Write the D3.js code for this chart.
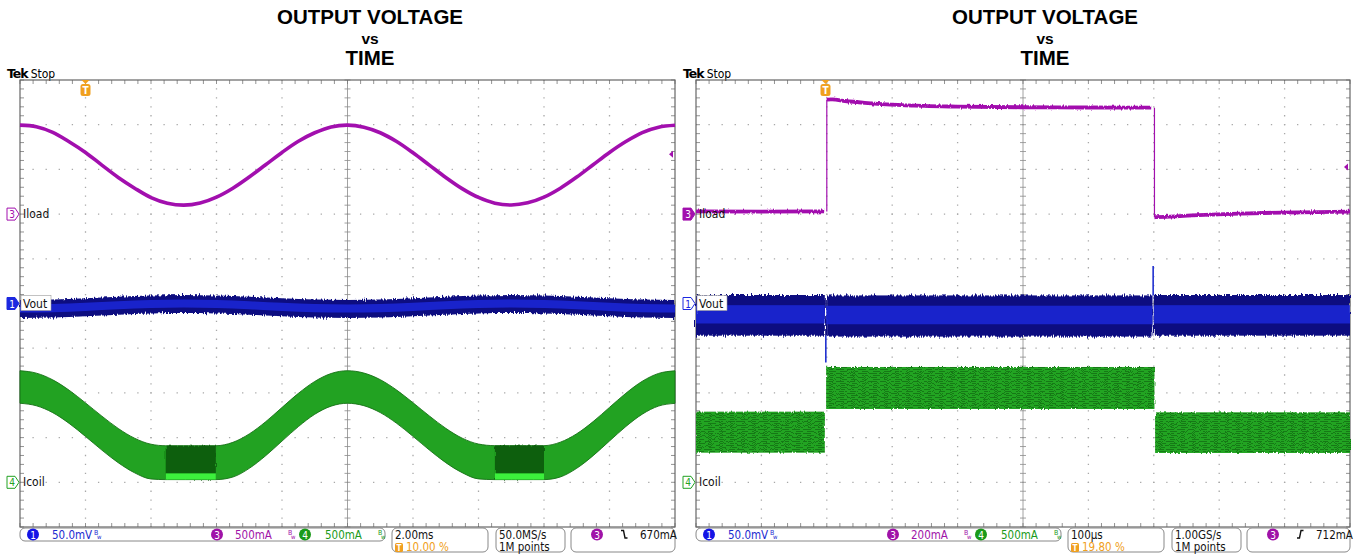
<!DOCTYPE html>
<html><head><meta charset="utf-8">
<script src="https://cdn.jsdelivr.net/npm/d3@7/dist/d3.min.js"></script>
<style>body{margin:0;background:#fff}svg{display:block}</style>
</head><body>
<svg id="c" width="1354" height="555"></svg>
<script>
// ================= DATA =================
const titleLines = ["OUTPUT VOLTAGE", "vs", "TIME"];
const channelNames = ["Vout", "Iload", "Icoil"];

// ---- Left capture: 2.00 ms/div, trigger at 10 %
const L_time = [-2,-1.5,-1,-0.5,0,0.5,1,1.5,2,2.5,3,3.5,4,4.5,5,5.5,6,6.5,7,7.5,8,8.5,9,9.5,10,10.5,11,11.5,12,12.5,13,13.5,14,14.5,15,15.5,16,16.5,17,17.5,18]; // ms
const L_iload = [995,978,915,810,690,548,410,290,185,122,100,124,190,290,415,552,690,815,910,975,995,972,910,812,686,548,410,285,186,122,102,126,190,290,414,552,690,812,912,972,993]; // mA
const L_voutTime = [-2,-1,0,1,2,3,4,5,6,7,8,9,10,11,12,13,14,15,16,17,18]; // ms
const L_voutHigh = [3.9,4.4,5.8,7.6,9.0,9.6,9.0,7.6,5.8,4.4,3.9,4.4,5.8,7.6,9.0,9.6,9.0,7.6,5.8,4.4,3.9]; // mV
const L_voutLow = [-16.2,-15.7,-14.3,-12.5,-11.1,-10.6,-11.1,-12.5,-14.3,-15.7,-16.2,-15.7,-14.3,-12.5,-11.1,-10.6,-11.1,-12.5,-14.3,-15.7,-16.2]; // mV
const L_icoilTime = [-2,-1.5,-1,-0.5,0,0.5,1,1.5,2,2.45,3.98,4.5,5,5.5,6,6.5,7,7.5,8,8.5,9,9.5,10,10.5,11,11.5,12,12.5,14.0,14.5,15,15.5,16,16.5,17,17.5,18]; // ms
const L_icoilHigh = [1248,1221,1146,1030,888,740,602,493,426,409,409,447,541,677,837,995,1128,1217,1248,1222,1148,1032,890,742,604,494,428,410,410,449,543,679,838,996,1130,1218,1247]; // mA
const L_icoilLow = [884,856,779,659,513,360,219,106,37,30,30,59,156,297,461,623,761,852,884,857,780,660,514,361,220,108,38,30,30,60,157,298,462,624,762,853,883]; // mA
const L_burstStart = [2.45, 12.5]; // ms
const L_burstEnd = [3.98, 14.0];
const L_burstHigh = [409, 410]; // mA
const L_burstLow = [30, 30];
const L_burstFloor = [100, 100];
const L_trigLevel = 670; // mA
const L_status = {ch1:"50.0mV", ch3:"500mA", ch4:"500mA", tdiv:"2.00ms", tpos:"10.00 %", rate:"50.0MS/s", pts:"1M points", trig:"670mA", slope:"fall"};

// ---- Right capture: 100 us/div, trigger at 19.80 %
const R_iloadSegTime = [[-198,-100,-2],[2,10,30,60,100,150,200,300,400,498],[503,520,560,620,700,802]]; // us
const R_iloadSegVal = [[12,11,12],[512,513,506,498,490,484,481,478,477,476],[-14,-12,-6,1,7,11]]; // mA
const R_voutSegStart = [-198, 1, 502]; // us
const R_voutSegEnd = [-1, 500, 802];
const R_voutHigh = [9.5, 9.0, 9.5]; // mV
const R_voutLow = [-36, -37, -36];
const R_spikeTime = [0.5, 501];
const R_spikeBase = [-36, 9];
const R_spikeTip = [-66, 42];
const R_icoilSegStart = [-198, 1, 504];
const R_icoilSegEnd = [-1, 503, 802];
const R_icoilHigh = [790, 1290, 783];
const R_icoilLow = [331, 820, 328];
const R_trigMarker = 211; // mA (display arrow)
const R_status = {ch1:"50.0mV", ch3:"200mA", ch4:"500mA", tdiv:"100\u00b5s", tpos:"19.80 %", rate:"1.00GS/s", pts:"1M points", trig:"712mA", slope:"rise"};

// ================= DRAW =================
const svg = d3.select("#c");
const PURPLE = "#a20fae", BLUE_D = "#0c0c80", BLUE = "#1c28d8", GREEN = "#22a222", ORANGE = "#f0a020";
const FONT = "'DejaVu Sans Condensed','DejaVu Sans',sans-serif";
const TITLEFONT = "'Liberation Sans',Arial,sans-serif";
const TOP = 80, BOT = 527;

const defs = svg.append("defs");
function jagFilter(id, freq, scale, seed) {
  const f = defs.append("filter").attr("id",id).attr("filterUnits","userSpaceOnUse")
    .attr("x",0).attr("y",0).attr("width",1354).attr("height",555);
  f.append("feTurbulence").attr("type","fractalNoise").attr("baseFrequency",freq).attr("numOctaves",2).attr("seed",seed).attr("result","n");
  f.append("feDisplacementMap").attr("in","SourceGraphic").attr("in2","n").attr("scale",scale).attr("xChannelSelector","R").attr("yChannelSelector","G");
}
jagFilter("jag", "0.9 0.06", 6, 5);
jagFilter("jag2", "0.7 0.1", 3, 9);
const pat = defs.append("pattern").attr("id","streak").attr("patternUnits","userSpaceOnUse").attr("width",11).attr("height",4);
pat.append("rect").attr("width",11).attr("height",4).attr("fill","#22a422");
pat.append("rect").attr("y",1).attr("width",8).attr("height",1).attr("fill","#137813");
pat.append("rect").attr("x",4).attr("y",3).attr("width",7).attr("height",0.8).attr("fill","#117011");

function panel(p) {
  const g = svg.append("g");
  const x = d3.scaleLinear().domain(p.tDomain).range([p.x0, p.x1]);
  const ch = (perDiv, gDiv) => d3.scaleLinear().domain([(-5 - gDiv) * perDiv, (5 - gDiv) * perDiv]).range([BOT, TOP]);
  const yDiv = d3.scaleLinear().domain([-5, 5]).range([BOT, TOP]);
  const xDiv = d3.scaleLinear().domain([0, 10]).range([p.x0, p.x1]);
  const yI = ch(p.iloadPerDiv, 2), yV = ch(50, 0), yC = ch(500, -4);

  // title
  const tx = p.titleX;
  g.append("text").attr("x",tx).attr("y",24).attr("text-anchor","middle").attr("font-family",TITLEFONT).attr("font-weight","bold").attr("font-size",20.5).text(titleLines[0]);
  g.append("text").attr("x",tx).attr("y",43.5).attr("text-anchor","middle").attr("font-family",TITLEFONT).attr("font-weight","bold").attr("font-size",15.5).text(titleLines[1]);
  g.append("text").attr("x",tx).attr("y",65).attr("text-anchor","middle").attr("font-family",TITLEFONT).attr("font-weight","bold").attr("font-size",20.5).text(titleLines[2]);

  // Tek Stop
  const ts = g.append("text").attr("x",p.x0-13).attr("y",78).attr("font-family",FONT).attr("font-size",12);
  ts.append("tspan").attr("font-weight","bold").attr("font-family","'DejaVu Sans',sans-serif").attr("font-size",12.5).attr("letter-spacing",-1).text("Tek");
  ts.append("tspan").attr("dx",3).text("Stop");

  // grid
  const grid = g.append("g");
  const hMinor = (p.x1 - p.x0) / 50, vMinor = (BOT - TOP) / 50;
  d3.range(1, 10).filter(k => k !== 5).forEach(k => {
    grid.append("line").attr("x1",xDiv(k)).attr("x2",xDiv(k)).attr("y1",TOP).attr("y2",BOT)
      .attr("stroke","#a8a8a8").attr("stroke-width",1.3).attr("stroke-dasharray",`1.3 ${vMinor-1.3}`).attr("stroke-dashoffset",0.65);
    grid.append("line").attr("y1",yDiv(k-5)).attr("y2",yDiv(k-5)).attr("x1",p.x0).attr("x2",p.x1)
      .attr("stroke","#a8a8a8").attr("stroke-width",1.3).attr("stroke-dasharray",`1.3 ${hMinor-1.3}`).attr("stroke-dashoffset",0.65);
  });
  grid.append("line").attr("x1",xDiv(5)).attr("x2",xDiv(5)).attr("y1",TOP).attr("y2",BOT).attr("stroke","#8a8a8a").attr("stroke-width",0.8);
  grid.append("line").attr("y1",yDiv(0)).attr("y2",yDiv(0)).attr("x1",p.x0).attr("x2",p.x1).attr("stroke","#8a8a8a").attr("stroke-width",0.8);
  d3.range(0, 51).forEach(i => {
    const xx = p.x0 + i * hMinor, yy = TOP + i * vMinor;
    grid.append("line").attr("x1",xx).attr("x2",xx).attr("y1",yDiv(0)-3).attr("y2",yDiv(0)+3).attr("stroke","#8a8a8a").attr("stroke-width",0.8);
    grid.append("line").attr("y1",yy).attr("y2",yy).attr("x1",xDiv(5)-3).attr("x2",xDiv(5)+3).attr("stroke","#8a8a8a").attr("stroke-width",0.8);
    grid.append("line").attr("x1",xx).attr("x2",xx).attr("y1",TOP).attr("y2",TOP+4).attr("stroke","#777").attr("stroke-width",0.8);
    grid.append("line").attr("x1",xx).attr("x2",xx).attr("y1",BOT-4).attr("y2",BOT).attr("stroke","#777").attr("stroke-width",0.8);
    grid.append("line").attr("y1",yy).attr("y2",yy).attr("x1",p.x0).attr("x2",p.x0+4).attr("stroke","#777").attr("stroke-width",0.8);
    grid.append("line").attr("y1",yy).attr("y2",yy).attr("x1",p.x1-4).attr("x2",p.x1).attr("stroke","#777").attr("stroke-width",0.8);
  });
  grid.append("rect").attr("x",p.x0).attr("y",TOP).attr("width",p.x1-p.x0).attr("height",BOT-TOP).attr("fill","none").attr("stroke","#666").attr("stroke-width",1.2);

  const traces = g.append("g");
  p.drawTraces(traces, x, yI, yV, yC);

  // trigger position marker
  const tx0 = x(0);
  const tg = g.append("g");
  tg.append("path").attr("d",`M${tx0-4},${TOP} L${tx0+4},${TOP} L${tx0},${TOP+4} Z`).attr("fill",ORANGE);
  tg.append("rect").attr("x",tx0-5).attr("y",TOP+4).attr("width",10).attr("height",12).attr("rx",2.5).attr("fill",ORANGE);
  tg.append("text").attr("x",tx0).attr("y",TOP+14).attr("text-anchor","middle").attr("font-family",FONT).attr("font-size",10).attr("font-weight","bold").attr("fill","#fff").text("T");
  // trigger level arrow
  const ty = yI(p.trigArrow);
  g.append("path").attr("d",`M${p.x1-6},${ty} L${p.x1-2},${ty-3.5} L${p.x1-2},${ty+3.5} Z`).attr("fill",PURPLE);

  // channel ground markers
  const markers = [
    {num:"3", name:channelNames[1], y:yI(0), color:PURPLE, filled:p.iloadSel},
    {num:"1", name:channelNames[0], y:yV(0), color:"#1c28e0", filled:p.voutSel, boxed:true},
    {num:"4", name:channelNames[2], y:yC(0), color:GREEN, filled:false}
  ];
  markers.forEach(m => {
    const mx = p.x0 - 13;
    g.append("path").attr("d",`M${mx},${m.y-6} L${mx+8},${m.y-6} L${mx+12},${m.y} L${mx+8},${m.y+6} L${mx},${m.y+6} Z`)
      .attr("fill", m.filled ? m.color : "#fff").attr("stroke", m.color).attr("stroke-width",1);
    g.append("text").attr("x",mx+5).attr("y",m.y+4).attr("text-anchor","middle").attr("font-family",FONT).attr("font-size",10)
      .attr("fill", m.filled ? "#fff" : m.color).text(m.num);
    if (m.boxed) {
      g.append("rect").attr("x",p.x0+1).attr("y",m.y-8).attr("width",30).attr("height",15).attr("fill","#fff").attr("stroke","#999").attr("stroke-width",0.6);
    }
    g.append("text").attr("x",p.x0+3).attr("y",m.y+4).attr("font-family",FONT).attr("font-size",12).attr("fill","#111").text(m.name);
  });

  // status bar
  const s = p.status, o = p.x0, sb = g.append("g").attr("font-family",FONT).attr("font-size",11.5);
  const box = (x0, x1, y1) => sb.append("rect").attr("x",o+x0).attr("y",528).attr("width",x1-x0).attr("height",y1-528).attr("rx",5).attr("fill","#fff").attr("stroke","#888").attr("stroke-width",1);
  box(0, 365, 541); box(372, 468, 552); box(476, 545, 552); box(551, p.x1 - p.x0, 552);
  const circ = (cx, fill, num) => {
    sb.append("circle").attr("cx",o+cx).attr("cy",534.5).attr("r",6).attr("fill",fill);
    sb.append("text").attr("x",o+cx).attr("y",538.5).attr("text-anchor","middle").attr("fill","#fff").attr("font-size",10).text(num);
  };
  const bw = (bx, col) => {
    sb.append("text").attr("x",o+bx).attr("y",535).attr("font-size",7).attr("fill",col).text("B");
    sb.append("text").attr("x",o+bx+3).attr("y",539).attr("font-size",6).attr("fill",col).text("w");
  };
  circ(13, "#1414e6", "1");
  sb.append("text").attr("x",o+32).attr("y",538.5).attr("fill","#1a2ad0").text(s.ch1); bw(74, "#1a2ad0");
  circ(197, "#a012a8", "3");
  sb.append("text").attr("x",o+215).attr("y",538.5).attr("fill","#a012a8").text(s.ch3); bw(268, "#a012a8");
  circ(285, "#1a9a1a", "4");
  sb.append("text").attr("x",o+305).attr("y",538.5).attr("fill","#1a9a1a").text(s.ch4); bw(358, "#1a9a1a");
  sb.append("text").attr("x",o+375).attr("y",538.5).attr("fill","#111").text(s.tdiv);
  sb.append("rect").attr("x",o+375).attr("y",543).attr("width",8).attr("height",9).attr("rx",1.5).attr("fill",ORANGE);
  sb.append("text").attr("x",o+379).attr("y",550.5).attr("text-anchor","middle").attr("fill","#fff").attr("font-size",8).attr("font-weight","bold").text("T");
  sb.append("text").attr("x",o+386).attr("y",550.5).attr("fill",ORANGE).text(s.tpos);
  sb.append("text").attr("x",o+479).attr("y",538.5).attr("fill","#111").text(s.rate);
  sb.append("text").attr("x",o+479).attr("y",550.5).attr("fill","#111").text(s.pts);
  circ(577, "#a012a8", "3");
  const sx = o + 601;
  const slopePath = s.slope === "fall" ? `M${sx},530.5 L${sx+2.5},530.5 L${sx+4},538 L${sx+6.5},538` : `M${sx},538 L${sx+2.5},538 L${sx+4},530.5 L${sx+6.5},530.5`;
  sb.append("path").attr("d",slopePath).attr("fill","none").attr("stroke","#111").attr("stroke-width",1.4);
  sb.append("text").attr("x",o+620).attr("y",538.5).attr("fill","#111").text(s.trig);
}

// ---- Left panel traces
panel({
  x0:20, x1:675, tDomain:[-2,18], titleX:370, iloadPerDiv:500, trigArrow:L_trigLevel,
  iloadSel:false, voutSel:true, status:L_status,
  drawTraces(g, x, yI, yV, yC) {
    const ic = L_icoilTime.map((t,i)=>({t, hi:L_icoilHigh[i], lo:L_icoilLow[i]}));
    g.append("path").datum(ic).attr("d", d3.area().x(d=>x(d.t)).y0(d=>yC(d.lo)).y1(d=>yC(d.hi)).curve(d3.curveMonotoneX))
      .attr("fill", GREEN).attr("stroke","#157015").attr("stroke-width",0.9);
    L_burstStart.forEach((t0,i) => {
      g.append("rect").attr("x",x(t0)).attr("width",x(L_burstEnd[i])-x(t0)).attr("y",yC(L_burstHigh[i])).attr("height",yC(L_burstLow[i])-yC(L_burstHigh[i]))
        .attr("fill","#0d5e0d").attr("filter","url(#jag2)");
      g.append("rect").attr("x",x(t0)).attr("width",x(L_burstEnd[i])-x(t0)).attr("y",yC(L_burstFloor[i])).attr("height",yC(L_burstLow[i])-yC(L_burstFloor[i]))
        .attr("fill","#3cf03c");
    });
    const vo = L_voutTime.map((t,i)=>({t, hi:L_voutHigh[i], lo:L_voutLow[i]}));
    const va = d3.area().x(d=>x(d.t)).curve(d3.curveMonotoneX);
    g.append("path").datum(vo).attr("d", va.y0(d=>yV(d.lo)).y1(d=>yV(d.hi))).attr("fill",BLUE_D).attr("filter","url(#jag)");
    g.append("path").datum(vo).attr("d", va.y0(d=>yV(d.lo+(d.hi-d.lo)*0.3)).y1(d=>yV(d.hi-(d.hi-d.lo)*0.25))).attr("fill",BLUE).attr("opacity",0.85);
    const il = L_time.map((t,i)=>({t, v:L_iload[i]}));
    g.append("path").datum(il).attr("d", d3.line().x(d=>x(d.t)).y(d=>yI(d.v)).curve(d3.curveCatmullRom))
      .attr("fill","none").attr("stroke",PURPLE).attr("stroke-width",3.6);
  }
});

// ---- Right panel traces
panel({
  x0:696, x1:1350, tDomain:[-198,802], titleX:1045, iloadPerDiv:200, trigArrow:R_trigMarker,
  iloadSel:true, voutSel:false, status:R_status,
  drawTraces(g, x, yI, yV, yC) {
    R_icoilSegStart.forEach((t0,i) => {
      g.append("rect").attr("x",x(t0)).attr("width",x(R_icoilSegEnd[i])-x(t0)).attr("y",yC(R_icoilHigh[i])).attr("height",yC(R_icoilLow[i])-yC(R_icoilHigh[i]))
        .attr("fill","url(#streak)").attr("filter","url(#jag2)");
    });
    R_voutSegStart.forEach((t0,i) => {
      const t1 = R_voutSegEnd[i], hi = R_voutHigh[i], lo = R_voutLow[i];
      g.append("rect").attr("x",x(t0)).attr("width",x(t1)-x(t0)).attr("y",yV(hi)).attr("height",yV(lo)-yV(hi)).attr("fill",BLUE_D).attr("filter","url(#jag)");
      g.append("rect").attr("x",x(t0)).attr("width",x(t1)-x(t0)).attr("y",yV(hi-(hi-lo)*0.25)).attr("height",(yV(lo)-yV(hi))*0.45).attr("fill",BLUE).attr("opacity",0.85);
    });
    R_spikeTime.forEach((t,i) => {
      g.append("line").attr("x1",x(t)).attr("x2",x(t)).attr("y1",yV(R_spikeBase[i])).attr("y2",yV(R_spikeTip[i])).attr("stroke","#2030d0").attr("stroke-width",1.6);
    });
    const line = d3.line().x(d=>x(d.t)).y(d=>yI(d.v)).curve(d3.curveMonotoneX);
    const segs = R_iloadSegTime.map((ts,k)=>ts.map((t,i)=>({t, v:R_iloadSegVal[k][i]})));
    segs.forEach((sg,k) => {
      if (k > 0) {
        const a = segs[k-1][segs[k-1].length-1], b = sg[0];
        g.append("line").attr("x1",x(b.t)).attr("x2",x(b.t)).attr("y1",yI(a.v)).attr("y2",yI(b.v)).attr("stroke",PURPLE).attr("stroke-width",1.2);
      }
      g.append("path").datum(sg).attr("d", line).attr("fill","none").attr("stroke",PURPLE).attr("stroke-width",3.8).attr("filter","url(#jag2)");
    });
  }
});
</script>
</body></html>
